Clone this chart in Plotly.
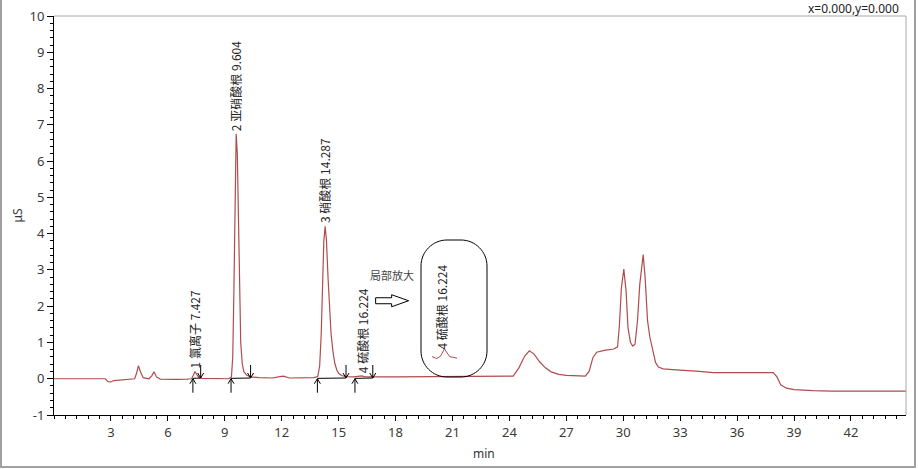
import plotly.graph_objects as go

# ---------------- data ----------------
time_min = [0.0, 2.7, 2.85, 3.0, 3.15, 3.5, 4.0, 4.25, 4.35, 4.45, 4.55, 4.7, 5.0, 5.15, 5.27, 5.4,
            5.6, 6.0, 6.5, 7.0, 7.25, 7.35, 7.43, 7.52, 7.65, 7.8, 8.5, 9.2, 9.35, 9.42, 9.48, 9.54,
            9.6, 9.66, 9.72, 9.78, 9.84, 9.92, 10.0, 10.15, 10.35, 10.8, 11.5, 11.9, 12.1, 12.4, 13.0,
            13.7, 13.9, 14.0, 14.08, 14.15, 14.22, 14.29, 14.36, 14.44, 14.52, 14.6, 14.7, 14.8, 14.9,
            15.0, 15.15, 15.4, 15.8, 16.1, 16.22, 16.35, 16.8, 18.0, 20.0, 22.0, 24.0, 24.2, 24.5,
            24.8, 25.05, 25.3, 25.6, 25.9, 26.2, 26.6, 27.0, 27.5, 28.0, 28.2, 28.4, 28.6, 29.0,
            29.5, 29.7, 29.8, 29.9, 30.03, 30.15, 30.25, 30.38, 30.5, 30.62, 30.75, 30.87, 31.05,
            31.15, 31.28, 31.4, 31.55, 31.7, 31.85, 32.1, 32.6, 33.0, 34.0, 34.75, 36.0, 37.0, 37.9,
            38.1, 38.3, 38.6, 39.0, 40.0, 41.0, 44.9]
signal_uS = [0.0, 0.0, -0.08, -0.09, -0.05, -0.03, -0.02, 0.0, 0.15, 0.36, 0.2, 0.03, 0.0, 0.08, 0.19,
             0.05, -0.01, -0.02, -0.02, -0.01, 0.0, 0.1, 0.2, 0.12, 0.03, 0.01, 0.0, 0.0, 0.05, 0.6,
             2.4, 5.3, 6.75, 6.2, 4.3, 2.3, 1.0, 0.42, 0.2, 0.1, 0.05, 0.03, 0.02, 0.06, 0.07, 0.02,
             0.02, 0.03, 0.06, 0.35, 1.2, 2.5, 3.8, 4.2, 3.8, 2.8, 1.9, 1.25, 0.75, 0.42, 0.25, 0.15,
             0.09, 0.06, 0.05, 0.06, 0.08, 0.06, 0.05, 0.05, 0.05, 0.05, 0.05, 0.07, 0.3, 0.62, 0.77,
             0.68, 0.46, 0.3, 0.19, 0.12, 0.09, 0.08, 0.07, 0.2, 0.58, 0.73, 0.78, 0.82, 0.88, 1.5,
             2.5, 3.02, 2.4, 1.4, 1.0, 0.9, 0.95, 1.6, 2.6, 3.42, 2.8, 1.6, 1.15, 0.8, 0.45, 0.32,
             0.27, 0.25, 0.24, 0.2, 0.17, 0.17, 0.17, 0.17, 0.05, -0.17, -0.26, -0.3, -0.33, -0.34,
             -0.34]

peak_labels = ["1 氯离子 7.427", "2 亚硝酸根 9.604", "3 硝酸根 14.287", "4 硫酸根 16.224"]
peak_times = [7.427, 9.604, 14.287, 16.224]
peak_heights = [0.2, 6.75, 4.2, 0.08]
peak_starts = [7.32, 9.33, 13.88, 15.86]
peak_ends = [7.73, 10.36, 15.39, 16.8]

x_ticks = [3, 6, 9, 12, 15, 18, 21, 24, 27, 30, 33, 36, 39, 42]
y_ticks = [-1, 0, 1, 2, 3, 4, 5, 6, 7, 8, 9, 10]
y_tick_text = ["-1", "0", "1", "2", "3", "4", "5", "6", "7", "8", "9", "10"]

# zoomed view of peak 4 shown in the rounded box
inset_time = [15.9, 16.02, 16.12, 16.224, 16.36, 16.55]
inset_signal = [0.012, 0.002, 0.014, 0.05, 0.012, 0.004]
inset_label = "4 硫酸根 16.224"
zoom_note = "局部放大"
cursor_text = "x=0.000,y=0.000"

# ---------------- figure ----------------
LINE = "#b04c4c"
CJK = "Noto Sans CJK SC"
fig = go.Figure()
fig.add_trace(go.Scatter(x=time_min, y=signal_uS, mode="lines",
                         line=dict(color=LINE, width=1.2), hoverinfo="skip", showlegend=False))
fig.add_trace(go.Scatter(x=inset_time, y=inset_signal, mode="lines", xaxis="x2", yaxis="y2",
                         line=dict(color=LINE, width=1), hoverinfo="skip", showlegend=False))

W, H = 918, 469
L, R, T, B = 54, 906, 16, 415
def px(xp):
    return (xp - L) / (R - L)
def py(yp):
    return (B - yp) / (B - T)

shapes = []
annotations = []
# peak labels and integration markers
for lab, t, h in zip(peak_labels, peak_times, peak_heights):
    annotations.append(dict(x=t, y=h, xref="x", yref="y", text=lab, textangle=-90,
                            showarrow=False, xanchor="center", yanchor="bottom", yshift=1,
                            font=dict(family=CJK, size=12, color="#222222")))
for s, e in zip(peak_starts, peak_ends):
    shapes.append(dict(type="line", xref="x", yref="y", x0=s, x1=e, y0=0.01, y1=0.02,
                       line=dict(color="black", width=1)))
    shapes.append(dict(type="path", xref="x", yref="y", xsizemode="pixel", ysizemode="pixel",
                       xanchor=s, yanchor=0.0, path="M0,-14 L0,0 M-3,-5 L0,0 L3,-5",
                       line=dict(color="black", width=1)))
    shapes.append(dict(type="path", xref="x", yref="y", xsizemode="pixel", ysizemode="pixel",
                       xanchor=e, yanchor=0.02, path="M0,13 L0,0 M-3,5 L0,0 L3,5",
                       line=dict(color="black", width=1)))

# hollow arrow (pixel path anchored in data space)
shapes.append(dict(type="path", xref="x", yref="y", xsizemode="pixel", ysizemode="pixel",
                   xanchor=16.95, yanchor=2.15,
                   path="M0,3 L16,3 L16,6 L33,0 L16,-6 L16,-3 L0,-3 Z",
                   line=dict(color="black", width=1), fillcolor="white"))
annotations.append(dict(x=17.8, y=2.85, xref="x", yref="y", text=zoom_note, showarrow=False,
                        font=dict(family=CJK, size=11, color="#444444")))

# rounded box
bx0, bx1, by0, by1 = px(421), px(487), py(377), py(240)
rx = 26 / (R - L)
ry = 26 / (B - T)
k = 0.55
path = (f"M{bx0+rx},{by1} L{bx1-rx},{by1} C{bx1-rx+k*rx},{by1} {bx1},{by1-ry+k*ry} {bx1},{by1-ry} "
        f"L{bx1},{by0+ry} C{bx1},{by0+ry-k*ry} {bx1-rx+k*rx},{by0} {bx1-rx},{by0} "
        f"L{bx0+rx},{by0} C{bx0+rx-k*rx},{by0} {bx0},{by0+ry-k*ry} {bx0},{by0+ry} "
        f"L{bx0},{by1-ry} C{bx0},{by1-ry+k*ry} {bx0+rx-k*rx},{by1} {bx0+rx},{by1} Z")
shapes.append(dict(type="path", xref="paper", yref="paper", path=path,
                   line=dict(color="black", width=1)))
annotations.append(dict(x=px(441), y=py(352), xref="paper", yref="paper", text=inset_label,
                        textangle=-90, showarrow=False, xanchor="center", yanchor="bottom",
                        font=dict(family=CJK, size=12, color="#222222")))

# plot frame (top / right) and outer window frame
shapes.append(dict(type="line", xref="paper", yref="paper", x0=0, x1=1, y0=1, y1=1,
                   line=dict(color="#a8a8a8", width=1)))
shapes.append(dict(type="line", xref="paper", yref="paper", x0=1, x1=1, y0=0, y1=1,
                   line=dict(color="#a8a8a8", width=1)))
shapes.append(dict(type="path", xref="paper", yref="paper",
                   path=f"M{px(1)},{py(0)} L{px(1)},{py(467)} L{px(915)},{py(467)} L{px(915)},{py(0)}",
                   line=dict(color="#a0a0a0", width=2)))

annotations.append(dict(x=px(901), y=py(8), xref="paper", yref="paper", text=cursor_text,
                        showarrow=False, xanchor="right", yanchor="middle",
                        font=dict(family="Noto Sans", size=12, color="#222222")))
annotations.append(dict(x=px(17), y=0.5, xref="paper", yref="paper", text="μS", textangle=-90,
                        showarrow=False, xanchor="center", yanchor="middle",
                        font=dict(family="Noto Sans", size=12, color="#333333")))
annotations.append(dict(x=px(484), y=py(453), xref="paper", yref="paper", text="min",
                        showarrow=False, xanchor="center", yanchor="middle",
                        font=dict(family="Noto Sans", size=12, color="#333333")))

tickfont = dict(family="Noto Sans", size=13, color="#3a3a3a")
fig.update_layout(
    width=W, height=H, paper_bgcolor="white", plot_bgcolor="white",
    margin=dict(l=L, r=W - R, t=T, b=H - B, autoexpand=False),
    showlegend=False,
    xaxis=dict(range=[0, 44.9], tickmode="array", tickvals=x_ticks, ticks="outside", ticklen=5,
               tickcolor="black", showgrid=False, zeroline=False, showline=True, linecolor="black",
               linewidth=1, tickfont=tickfont,
               minor=dict(tick0=0, dtick=0.6, ticks="outside", ticklen=3, tickcolor="black",
                          showgrid=False)),
    yaxis=dict(range=[-1, 10], tickmode="array", tickvals=y_ticks, ticktext=y_tick_text,
               ticks="outside", ticklen=6,
               tickcolor="black", showgrid=False, zeroline=False, showline=True, linecolor="black",
               linewidth=1, tickfont=tickfont,
               minor=dict(tick0=0, dtick=0.2, ticks="outside", ticklen=3, tickcolor="black",
                          showgrid=False)),
    xaxis2=dict(domain=[px(432), px(457)], range=[15.9, 16.55], visible=False, anchor="y2"),
    yaxis2=dict(domain=[py(360), py(348)], range=[-0.005, 0.055], visible=False, anchor="x2"),
    shapes=shapes, annotations=annotations,
)
fig.write_html("out.html", config={"displayModeBar": False},
               post_script="document.body.style.margin='0';document.body.style.padding='0';")
